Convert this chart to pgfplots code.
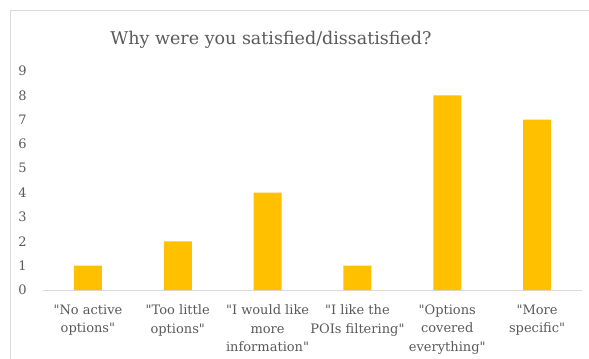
\documentclass[border=0pt]{standalone}
\usepackage{pgfplots}
\pgfplotsset{compat=1.18}
\usepackage{fontspec}
\setmainfont{DejaVu Serif}
\definecolor{barc}{HTML}{FFC000}
\definecolor{txt}{HTML}{595959}
\definecolor{frm}{HTML}{D9D9D9}
\newcommand\q{\textquotedbl}
\begin{document}
\begin{tikzpicture}[x=1bp,y=1bp]
\path[use as bounding box] (0,0) rectangle (589,358);
\draw[frm, line width=1bp] (10.5,-5) -- (10.5,347.5) -- (600,347.5);
\node[txt, font=\fontsize{17.5bp}{22bp}\selectfont] at (271,318) {Why were you satisfied/dissatisfied?};
\begin{axis}[
  at={(43bp,68bp)}, anchor=south west,
  scale only axis, width=539bp, height=219bp,
  xmin=-0.5, xmax=5.5, ymin=0, ymax=9,
  axis x line=bottom, axis y line=left,
  y axis line style={draw=none},
  x axis line style={draw=frm, line width=1bp, -},
  tick style={draw=none},
  ytick={0,1,...,9},
  xtick={0,...,5},
  xticklabels={{\q No active\\options\q},{\q Too little\\options\q},{\q I would like\\more\\information\q},{\q I like the\\POIs filtering\q},{\q Options\\covered\\everything\q},{\q More\\specific\q}},
  xticklabel style={align=center, font=\fontsize{13bp}{18.5bp}\selectfont, text=txt, yshift=-9bp},
  yticklabel style={inner sep=0pt, anchor=east, xshift=-14bp, font=\fontsize{13bp}{16bp}\selectfont, text=txt},
  /pgf/number format/assume math mode=true,
]
\addplot[ybar, bar width=28bp, fill=barc, draw=none] coordinates {(0,1) (1,2) (2,4) (3,1) (4,8) (5,7)};
\end{axis}
\end{tikzpicture}
\end{document}
